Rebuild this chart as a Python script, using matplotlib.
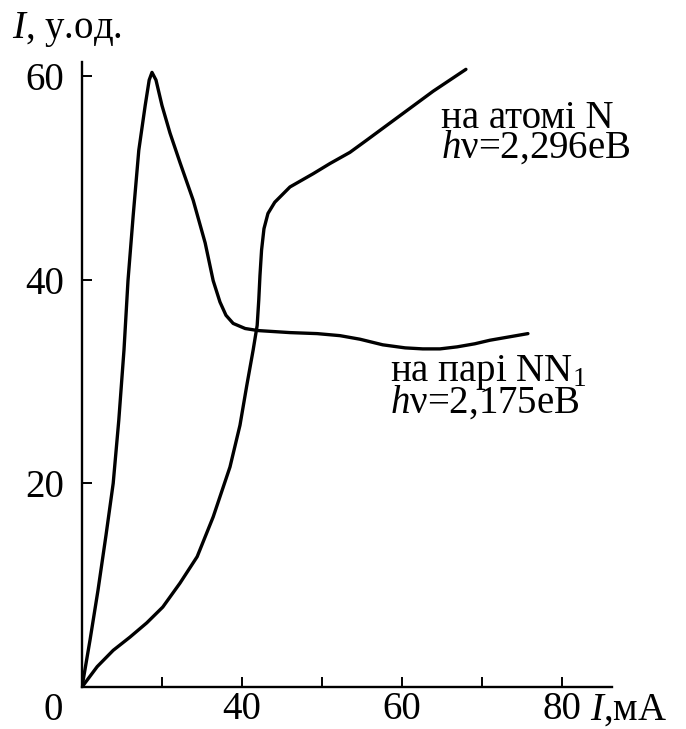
import matplotlib
matplotlib.use("Agg")
import matplotlib.pyplot as plt

plt.rcParams["font.family"] = ["Liberation Serif", "DejaVu Serif"]
plt.rcParams["mathtext.fontset"] = "custom"
plt.rcParams["mathtext.rm"] = "Liberation Serif"
plt.rcParams["mathtext.it"] = "Liberation Serif:italic"

# Discharge current, mA, and line intensity, arb. units
# NN1 pair band, hv = 2.175 eV
i_pair = [20, 21, 22, 23, 23.9, 24.6, 25.25, 25.75, 26.4, 27.1, 27.9, 28.4,
          28.75, 29.25, 30, 31, 32.25, 33.9, 35.4, 36.4, 37.25, 38, 38.9,
          40.4, 42, 46, 49.4, 52.25, 54.75, 57.6, 60.4, 62.6, 64.75, 66.9,
          69.1, 71, 75.75]
y_pair = [0, 4.6, 9.5, 14.9, 20.0, 26.2, 33.1, 39.9, 46.3, 52.7, 57.1, 59.6,
          60.35, 59.6, 57.1, 54.4, 51.5, 47.8, 43.6, 39.9, 37.8, 36.5, 35.7,
          35.2, 35.0, 34.8, 34.7, 34.5, 34.15, 33.6, 33.3, 33.2, 33.2, 33.4,
          33.7, 34.05, 34.7]

# N atom line, hv = 2.296 eV
i_atom = [20, 21.9, 23.9, 26, 28.1, 30.1, 32.25, 34.4, 36.4, 38.5, 39.75,
          40.6, 41.4, 41.9, 42.1, 42.25, 42.45, 42.75, 43.25, 44.1, 46, 48.9,
          51, 53.5, 55.6, 59.75, 63.9, 68]
y_atom = [0, 2.0, 3.6, 4.9, 6.3, 7.85, 10.2, 12.8, 16.7, 21.6, 25.7, 29.6,
          33.1, 35.5, 38.0, 40.4, 42.9, 45.0, 46.5, 47.6, 49.1, 50.4, 51.4,
          52.5, 53.7, 56.1, 58.5, 60.65]

x_ticks = [30, 40, 50, 60, 70, 80]
x_tick_labels = ["", "40", "", "60", "", "80"]
y_ticks = [20, 40, 60]

W, H = 686, 729
fig = plt.figure(figsize=(W / 100, H / 100), dpi=100)
ax = fig.add_axes([82 / W, 1 - 687 / H, (611.5 - 82) / W, (687 - 61.7) / H])

lw = 2.4
for xs, ys in ((i_pair, y_pair), (i_atom, y_atom)):
    ax.plot(xs, ys, color="black", lw=lw, solid_joinstyle="round",
            solid_capstyle="round")

ax.set_xlim(20, 86.2)
ax.set_ylim(0, 61.4)
for side in ("top", "right"):
    ax.spines[side].set_visible(False)
for side in ("left", "bottom"):
    ax.spines[side].set_linewidth(1.7)
    ax.spines[side].set_color("black")

fs = 28
ax.set_xticks(x_ticks)
ax.set_xticklabels(x_tick_labels)
ax.set_yticks(y_ticks)
ax.tick_params(direction="in", length=7.5, width=1.4, labelsize=fs, color="black")
ax.tick_params(axis="x", pad=3)
ax.tick_params(axis="y", pad=13)

def px(x, y):
    return x / W, 1 - y / H

fig.text(*px(53, 720), "0", fontsize=fs, ha="center", va="baseline")
fig.text(*px(590, 720), "$I$,мА", fontsize=fs, ha="left", va="baseline")
fig.text(*px(12, 38), "$I$, у.од.", fontsize=fs, ha="left", va="baseline")

# two-line curve captions
fig.text(*px(441, 100), "на атомі N\n$h$ν=2,296еВ", fontsize=fs,
         ha="left", va="top", linespacing=0.72)
fig.text(*px(390, 353), "на парі NN$_{1}$\n$h$ν=2,175еВ", fontsize=fs,
         ha="left", va="top", linespacing=0.72)

fig.savefig("out.png", dpi=100, facecolor="white")
